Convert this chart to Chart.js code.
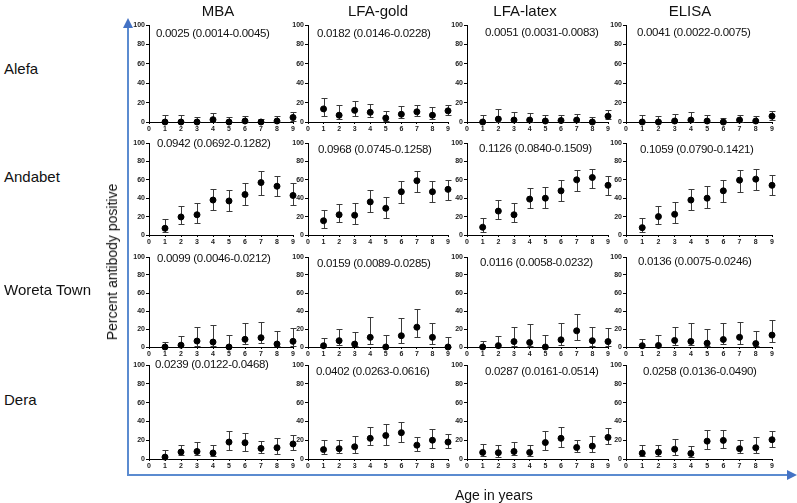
<!DOCTYPE html>
<html>
<head>
<meta charset="utf-8">
<script src="https://cdn.jsdelivr.net/npm/chart.js@4"></script>
<style>
  body { margin:0; background:#fff; }
  #page { position:relative; width:797px; height:503px; overflow:hidden; font-family:"Liberation Sans", Arial, sans-serif; color:#111; }
  #page canvas { position:absolute; }
  .lbl { position:absolute; white-space:nowrap; line-height:1; transform:translateY(-50%); }
  .title { font-size:15px; transform:translate(-50%,-50%); }
  .site { font-size:15px; }
  .est { font-size:11.5px; letter-spacing:-0.3px; }
  #yTitle { font-size:14px; transform:translate(-50%,-50%) rotate(-90deg); }
  #xTitle { font-size:14px; }
</style>
</head>
<body>
<div id="page">
  <svg width="797" height="503" style="position:absolute;left:0;top:0">
    <line x1="128" y1="26" x2="128" y2="475" stroke="#5b8bd0" stroke-width="2"/>
    <polygon points="128,18 123,28 133,28" fill="#4472c4"/>
    <line x1="127" y1="475" x2="788" y2="475" stroke="#5b8bd0" stroke-width="2"/>
    <polygon points="797,475 787,470 787,480" fill="#4472c4"/>
  </svg>
</div>
<script>
const ages = [1, 2, 3, 4, 5, 6, 7, 8, 9];
const xTicks = [0, 1, 2, 3, 4, 5, 6, 7, 8, 9];
const yTicks = [0, 20, 40, 60, 80, 100];
const assays = ["MBA", "LFA-gold", "LFA-latex", "ELISA"];
const sites = ["Alefa", "Andabet", "Woreta Town", "Dera"];

// per site: one array per assay (MBA, LFA-gold, LFA-latex, ELISA)
const alefaPoint = [
  [0, 0, 0, 2.4, 0, 1, 0, 1, 4.7],
  [13.5, 7, 12, 10, 4, 8, 10.5, 7, 11.5],
  [0, 3, 2, 2, 1, 1.5, 2, 0, 6],
  [0, 0, 1, 2, 1, 0, 2, 1, 6]
];
const alefaLow = [
  [0, 0, 0, 0, 0, 0, 0, 0, 1],
  [6, 3, 6, 5, 1, 4, 6, 3, 7],
  [0, 0, 0, 0, 0, 0, 0, 0, 3],
  [0, 0, 0, 0, 0, 0, 0, 0, 2]
];
const alefaHigh = [
  [7.5, 7, 5, 9, 5, 6.5, 3, 6.5, 10],
  [25, 18, 21.5, 19, 11.5, 16, 18, 15.5, 17.5],
  [7, 13, 10, 9, 7.5, 7.5, 8, 5, 12],
  [7, 6.5, 8, 10, 7, 4, 7.5, 6, 11.5]
];

const andabetPoint = [
  [7.3, 19.6, 22, 38, 37, 44, 57, 53, 43],
  [15.5, 22, 21.5, 36, 29, 47, 59, 47, 49.6],
  [8.4, 26, 22, 39, 40, 48, 60, 62.5, 54],
  [8, 20, 22.5, 38, 40, 48, 59.6, 60.7, 54]
];
const andabetLow = [
  [3, 12, 13, 27, 26, 33, 44, 42.5, 33],
  [7.4, 14, 12, 25, 18.5, 35, 46.7, 36, 38.5],
  [3.5, 17.5, 13.7, 29, 29, 37.5, 48, 51, 44],
  [3, 12, 13.5, 27.5, 29.6, 36, 47, 49, 43.5]
];
const andabetHigh = [
  [17, 31, 35, 50, 49, 56, 70, 64, 56],
  [27, 34, 35, 48.5, 41, 59, 70, 58.5, 60],
  [18, 38, 35, 51, 52, 60, 71, 72, 64.5],
  [18, 32, 36, 50, 53, 60, 71, 72, 65]
];

const woretaPoint = [
  [0, 2, 6.6, 5.5, 0, 8.5, 10.3, 3.3, 6.3],
  [1.4, 7, 3.2, 10.7, 0, 12.5, 22, 10.7, 0],
  [0, 1.5, 6, 5, 0, 8, 18, 7, 6],
  [1.4, 1.7, 7.3, 6.2, 4.2, 8.3, 10.8, 3.8, 13.2]
];
const woretaLow = [
  [0, 0, 1.5, 1.5, 0, 3, 4, 0.7, 1.5],
  [0, 1.8, 0.7, 3, 0, 4.6, 10.7, 3.6, 0],
  [0, 0, 1.5, 0.8, 0, 2, 8, 1.5, 1],
  [0, 0, 2.4, 1.7, 1, 2.8, 3.8, 1, 5.5]
];
const woretaHigh = [
  [6, 12.5, 21.7, 25, 13, 27, 27.6, 17.6, 20.6],
  [9.6, 19.6, 16.8, 33, 13, 32, 42, 27, 10.7],
  [6.4, 12.5, 22, 25.7, 13, 27, 37, 22.6, 20.7],
  [9.4, 13.5, 22.6, 26.7, 19.8, 26.7, 28, 18, 29.5]
];

const deraPoint = [
  [2, 7.4, 8, 6.4, 18, 17.3, 11.3, 12, 16],
  [10, 11, 13, 22, 25, 28, 14.7, 20, 18],
  [7, 6.7, 8, 7, 17.5, 22, 12.3, 13.7, 23],
  [6.2, 7.3, 10.4, 5.9, 19, 19.8, 11, 12, 20.5]
];
const deraLow = [
  [0.4, 3.9, 3.9, 2.8, 10, 9, 6, 5.7, 9.5],
  [5, 6, 6.6, 14.7, 14.7, 18, 8.4, 12, 11.5],
  [2.8, 2.5, 3.9, 2.8, 9.5, 12.6, 7, 7, 15.8],
  [2.8, 3.1, 4.5, 2.4, 10.8, 11.8, 6.2, 5.9, 13.2]
];
const deraHigh = [
  [10, 15, 18, 15, 29.7, 28, 19, 22, 25.4],
  [20, 20, 24.5, 33.6, 37.4, 39.5, 23.4, 32, 27],
  [16, 14.4, 18, 15.4, 30, 33.7, 20.7, 24.6, 33],
  [14.6, 14.6, 21, 13.9, 30.5, 31, 19.8, 23, 30]
];

// rate (95% CI) printed in each panel
const alefaEst = ["0.0025 (0.0014-0.0045)", "0.0182 (0.0146-0.0228)", "0.0051 (0.0031-0.0083)", "0.0041 (0.0022-0.0075)"];
const andabetEst = ["0.0942 (0.0692-0.1282)", "0.0968 (0.0745-0.1258)", "0.1126 (0.0840-0.1509)", "0.1059 (0.0790-0.1421)"];
const woretaEst = ["0.0099 (0.0046-0.0212)", "0.0159 (0.0089-0.0285)", "0.0116 (0.0058-0.0232)", "0.0136 (0.0075-0.0246)"];
const deraEst = ["0.0239 (0.0122-0.0468)", "0.0402 (0.0263-0.0616)", "0.0287 (0.0161-0.0514)", "0.0258 (0.0136-0.0490)"];

const rowPoint = [alefaPoint, andabetPoint, woretaPoint, deraPoint];
const rowLow = [alefaLow, andabetLow, woretaLow, deraLow];
const rowHigh = [alefaHigh, andabetHigh, woretaHigh, deraHigh];
const rowEst = [alefaEst, andabetEst, woretaEst, deraEst];

// layout: axis origin / right end for each column, top / bottom for each row
const cols = [{ax:149, x9:293}, {ax:308, x9:448}, {ax:467, x9:608}, {ax:626, x9:772}];
const rows = [{t:25, b:122}, {t:143, b:235}, {t:257, b:347}, {t:365, b:459}];
const estPos = [
  [[156,34], [317,34], [485,33], [637,33]],
  [[157,144], [318,150], [479,149], [640,150]],
  [[157,259], [317,264], [480,263], [638,262]],
  [[155,365], [316,372], [485,372], [643,372]]
];
const titleX = [218, 378, 525, 690];
const siteY = [68, 176, 289, 399];

const page = document.getElementById("page");

function addLabel(text, cls, x, y, id){
  const d = document.createElement("div");
  d.className = "lbl " + cls;
  if(id) d.id = id;
  d.textContent = text;
  d.style.left = x + "px";
  d.style.top = y + "px";
  page.appendChild(d);
}

const errorBars = {
  id: "errorBars",
  beforeDatasetsDraw(chart){
    const ctx = chart.ctx;
    const x = chart.scales.x, y = chart.scales.y;
    const ds = chart.data.datasets[0];
    ctx.save();
    ctx.strokeStyle = "#3a3a3a";
    ctx.lineWidth = 1;
    ds.data.forEach((p, i) => {
      const px = Math.round(x.getPixelForValue(p.x)) + 0.5;
      const lo = Math.round(y.getPixelForValue(ds.low[i])) + 0.5;
      const hi = Math.round(y.getPixelForValue(ds.high[i])) + 0.5;
      ctx.beginPath();
      ctx.moveTo(px, lo); ctx.lineTo(px, hi);
      ctx.moveTo(px - 3, hi); ctx.lineTo(px + 3, hi);
      ctx.moveTo(px - 3, lo); ctx.lineTo(px + 3, lo);
      ctx.stroke();
    });
    ctx.restore();
  }
};

const tickFont = {size:7, weight:"bold", family:"Liberation Sans"};
const YW = 24, XH = 13, PT = 6, PR = 8;

function makePanel(r, c){
  const col = cols[c], row = rows[r];
  const cv = document.createElement("canvas");
  const w = col.x9 - col.ax + YW + PR;
  const h = row.b - row.t + PT + XH;
  cv.width = w; cv.height = h;
  cv.style.left = (col.ax - YW) + "px";
  cv.style.top = (row.t - PT) + "px";
  page.appendChild(cv);

  new Chart(cv, {
    type: "scatter",
    data: {
      datasets: [{
        data: ages.map((a, i) => ({x: a, y: rowPoint[r][c][i]})),
        low: rowLow[r][c],
        high: rowHigh[r][c],
        backgroundColor: "#000",
        borderColor: "#000",
        pointRadius: 3,
        pointHoverRadius: 3,
        clip: false
      }]
    },
    options: {
      responsive: false,
      animation: false,
      events: [],
      layout: {padding: {left:0, top:PT, right:PR, bottom:0}},
      plugins: {legend: {display:false}, tooltip: {enabled:false}},
      scales: {
        x: {
          type: "linear", min: 0, max: 9,
          afterBuildTicks: s => { s.ticks = xTicks.map(v => ({value:v})); },
          afterFit: s => { s.height = XH; s.paddingLeft = 0; s.paddingRight = 0; },
          grid: {drawOnChartArea:false, drawTicks:true, tickLength:2, color:"#000"},
          border: {display:true, color:"#000", width:1},
          ticks: {font:tickFont, color:"#222", padding:1, maxRotation:0, autoSkip:false}
        },
        y: {
          type: "linear", min: 0, max: 100,
          afterBuildTicks: s => { s.ticks = yTicks.map(v => ({value:v})); },
          afterFit: s => { s.width = YW; s.paddingTop = 0; s.paddingBottom = 0; },
          grid: {drawOnChartArea:false, drawTicks:true, tickLength:3, color:"#000"},
          border: {display:true, color:"#000", width:1},
          ticks: {font:tickFont, color:"#222", padding:1, autoSkip:false}
        }
      }
    },
    plugins: [errorBars]
  });

  addLabel(rowEst[r][c], "est", estPos[r][c][0], estPos[r][c][1]);
}

for(let r = 0; r < 4; r++){
  for(let c = 0; c < 4; c++){
    makePanel(r, c);
  }
}

assays.forEach((a, c) => addLabel(a, "title", titleX[c], 10));
sites.forEach((s, r) => addLabel(s, "site", 4, siteY[r]));
addLabel("Percent antibody positive", "", 112, 262, "yTitle");
addLabel("Age in years", "", 455, 495, "xTitle");
</script>
</body>
</html>
